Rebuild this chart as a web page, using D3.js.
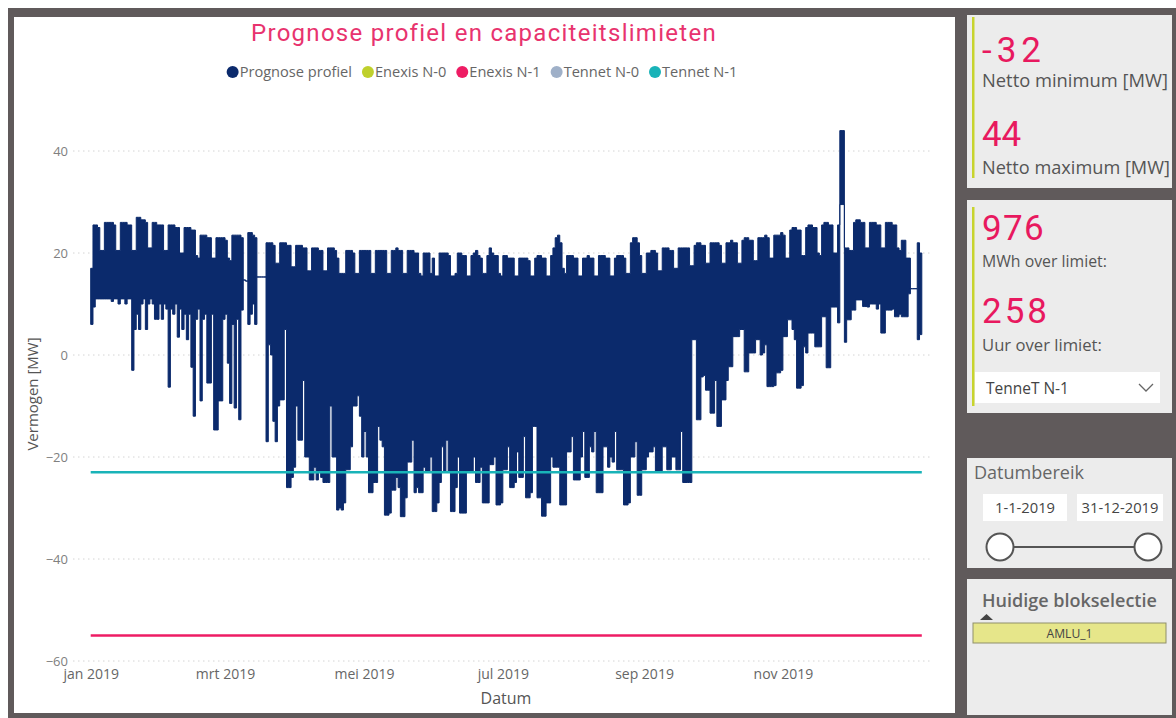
<!DOCTYPE html>
<html><head><meta charset="utf-8">
<script src="https://cdn.jsdelivr.net/npm/d3@7"></script>
<style>
body{margin:0;background:#fff;}
svg{display:block;}
</style></head><body>
<svg id="c" width="1176" height="718"></svg>
<script>
// ---------------- DATA ----------------
const chartTitle = "Prognose profiel en capaciteitslimieten";
const legendNames = ["Prognose profiel","Enexis N-0","Enexis N-1","Tennet N-0","Tennet N-1"];
const legendColors = ["#0b2a6c","#bfd02c","#ee1c64","#9fb0c8","#19b3b8"];
// horizontal capacity limits per legend item (null = not visible in view)
const limitValues = [null, null, -55, null, -23];
const yTicks = [-60,-40,-20,0,20,40];
const xTickDates = ["2019-01-01","2019-03-01","2019-05-01","2019-07-01","2019-09-01","2019-11-01"];
const xTickLabels = ["jan 2019","mrt 2019","mei 2019","jul 2019","sep 2019","nov 2019"];
const xTitle = "Datum";
const yTitle = "Vermogen [MW]";

// daily maximum of the forecast profile (MW), Jan 1 .. Dec 31 2019 (rows = weeks starting Tuesday)
const dailyMax = [
 17,25.5,25.5,25,20.5,20.5,26,
 26,26,26,25.5,20.5,20.5,26,
 26,26,25.5,25.5,20.5,20.5,27,
 27,26.5,26.5,26,21,21,26,
 26,25.5,25.5,25.5,20.5,20.5,25.5,
 25.5,25.5,25,25,20,20,25,
 25,25,24.5,24.5,19.5,19,23.5,
 23.5,23.5,23,23,19,19,23,
 23,23,23,22.5,19,18.5,23.5,
 23.5,23.5,23.5,23,14.7,14.5,24,
 24,23.5,23,15.3,15.3,15.3,15.3,
 22,22,22,21.5,18,18,22,
 22,22,21.5,21.5,17.3,17.3,21.5,
 21.5,21.5,21,21,16.5,16.5,21,
 21,21,20.5,20.5,16.5,16.5,21,
 21,21,20.5,19,16,16,16,
 20.5,20.5,20.5,20,16,16,20.5,
 20.5,20.5,20.5,20.5,16,16,20.5,
 20.5,20.5,20.5,20.5,16,16,20.5,
 20.5,21,20.5,20.5,16,16,20.5,
 20.5,20.5,20,20,16,15.5,20,
 20,20,16,19,15.5,15.5,20,
 20,20,20,19.5,15.5,15.5,16,
 20,20,19.5,19.5,15.5,15.5,19.5,
 20,20.5,19.5,19,16,16,19.5,
 21,20,19.5,19.5,16,15.5,19.5,
 19.5,19,19,19,15.5,15.5,19,
 19,19,19,18.5,15.5,15.5,19,
 19.5,19.5,19,19,15.5,15.5,19.5,
 21,23,23.5,22,17,16,19.5,
 19.5,19.5,19,19,15.5,15.5,19,
 19,19.5,19,19,15.5,15.5,19.5,
 19.5,19.5,19,19,15.5,15.5,19,
 19.5,19.5,19.5,19,16,16,22,
 23,23,22,19.5,16,16,20,
 20,20.5,20.5,20,16.5,16.5,21,
 21,21,20.5,20.5,17,17,21,
 21,21,21,21,17.5,17.5,21.5,
 22,22,21.5,21.5,18,18,22,
 22,22,22,21.5,18,18,22,
 22,22.5,22,22,18,18,22.5,
 23,23,22.5,22.5,18.5,18.5,23,
 23,23,23.5,23,19,19,23.5,
 23.5,23.5,24,23.5,19,19,24.5,
 25,25,24.5,24.5,19.5,19.5,25,
 25.5,25.5,25,25,20,19.5,25.5,
 26,26,25.5,25.5,20,20,25.5,
 44,44,21,21,20.5,20.5,26,
 26.5,26.5,26,26,21,21,26,
 26,26,25.5,25.5,21,21,26,
 26,26,25.5,25.5,21,20.5,22.5,
 22.5,19,19,13,13,13,22,
 20
];
// daily minimum of the forecast profile (MW)
const dailyMin = [
 6,9.4,11,11,11,11,11,
 11,11,10.5,11,11,10,11,
 11,10,11,11,-3,5,8,
 5,10,11,5,10,11,10,
 7,7,10,7,10,9,-6.3,
 9,8,10,3.5,9,5,8,
 3,8,-2.4,-12,7,9,-9,
 7,8,-5.5,-5.5,8,-14.7,-14.7,
 -9,-9,7,8,-1.6,-9.5,6,
 -10.4,7,-12.7,8.8,14.7,14.5,6,
 8,10,6,15.3,15.3,15.3,15.3,
 -17,2,0,-13,-17,-10,-8.8,
 -8.8,5,-26,-26,-24,-22,-10,
 -16.7,-16.7,-5,-20,-20,-24.5,-24.5,
 -22,-24.5,-23,-24,-25,-25,-25,
 -10,-20,-20,-30.4,-30,-30.4,-29,
 -22.5,-22.5,-18,-10,-10,-8,-12,
 -20,-15,-20,-27,-27,-25,-25,
 -14,-16.7,-18,-31.4,-31.4,-31,-26.5,
 -26.5,-24,-26,-31.7,-31.7,-28,-21,
 -21,-16.7,-27,-26,-27,-27,-22,
 -23,-23,-20,-30.7,-30.7,-29,-25,
 -18,-23,-16.7,-23,-30.7,-30.7,-26,
 -20,-31,-31,-31,-23,-23,-23,
 -20,-25,-25,-22,-29,-29,-29,
 -21.5,-21.5,-20,-29.4,-29.4,-29,-22.5,
 -22.5,-18,-26,-26,-25,-19,-24,
 -24,-16,-28,-28,-27,-14,-14,
 -28,-28,-31.6,-31.6,-29,-29,-20,
 -22,-22,-22,-29.4,-29.4,-29.4,-19,
 -19,-16,-24.5,-24.5,-24.5,-20,-15,
 -24,-24,-18,-19,-15,-27,-27,
 -27,-18,-18,-22,-20,-21,-15,
 -22.5,-22.5,-22.5,-29.4,-29.4,-29,-20,
 -20,-17,-27.5,-27.5,-22.5,-22.5,-20,
 -19,-19,-18,-23,-23,-23,-18,
 -18,-22.5,-22.5,-20,-20,-22.5,-22.5,
 -15,-25,-25,-25,-25,3,3,
 -12.7,-12.7,-4.3,-4,-6.9,-6.9,-11.4,
 -11.4,-5,-14,-14,-8.8,-8.8,-5,
 -2.3,-2.3,3.6,3.6,3.6,5,5,
 -3.3,-3.3,0.4,0.4,0.4,3,3,
 0,0.4,2,-6.2,-6.2,-6.2,-6,
 -3.5,-3.5,-3,3.6,3.6,6.9,6.9,
 5,3,-6.5,-6.5,-6,1.6,0.4,
 4.3,4.3,4.3,1.6,1.6,1.6,7.5,
 7.5,-2.5,-2.5,9.4,9.4,9.4,6.3,
 29.5,29.5,2.5,6.9,6.9,8.8,8.8,
 10.8,10.8,10.8,9.5,9.5,9.4,10,
 10,10,9,10,4.3,4.3,8.8,
 8.8,8.8,9,7.5,7.5,8,7.5,
 7.5,7.5,12,13,13,13,3,
 4
];

// KPI cards
const kpiValues = ["-32","44","976","258"];
const kpiLabels = ["Netto minimum [MW]","Netto maximum [MW]","MWh over limiet:","Uur over limiet:"];
const dropdownValue = "TenneT N-1";
const rangeTitle = "Datumbereik";
const rangeStart = "1-1-2019";
const rangeEnd = "31-12-2019";
const selectionTitle = "Huidige blokselectie";
const selectionItems = ["AMLU_1"];

// ---------------- DRAW ----------------
const svg = d3.select("#c");
const navy = legendColors[0];
const pink = "#e8195f";
const fontTxt = "'Open Sans', 'Noto Sans', sans-serif";
const fontDin = "Roboto, 'Noto Sans', sans-serif";

function fitSpacing(sel, w){
  const n = sel.node(); const cur = n.getComputedTextLength();
  const len = sel.text().length;
  sel.attr("letter-spacing", ((w-cur)/len).toFixed(3));
}
function fitSize(sel, w){
  const n = sel.node(); const cur = n.getComputedTextLength();
  const fs = parseFloat(sel.attr("font-size"));
  sel.attr("font-size", (fs*w/cur).toFixed(2));
}

// frame
svg.append("rect").attr("width",1176).attr("height",718).attr("fill","#ffffff");
svg.append("rect").attr("x",8).attr("y",8).attr("width",1168).attr("height",710).attr("fill","#605a5b");
svg.append("rect").attr("x",14).attr("y",17).attr("width",941).attr("height",696).attr("fill","#ffffff");

// scales
const t0 = Date.UTC(2019,0,1);
const dayDate = d => new Date(t0 + d*864e5);
const x = d3.scaleUtc().domain([dayDate(0), dayDate(365)]).range([90.7, 921.8]);
const y = d3.scaleLinear().domain([-60,40]).range([661,151]);

// gridlines
svg.append("g").selectAll("line").data(yTicks).join("line")
  .attr("x1",73).attr("x2",932).attr("y1",d=>y(d)).attr("y2",d=>y(d))
  .attr("stroke","#d4d4d4").attr("stroke-width",1).attr("stroke-dasharray","1.5,3.5");

// y axis
const yAxis = svg.append("g").attr("transform","translate(68,0)")
  .call(d3.axisLeft(y).tickValues(yTicks).tickSize(0).tickPadding(0).tickFormat(d3.format("d")));
yAxis.select(".domain").remove();
yAxis.selectAll("text").attr("fill","#808080").attr("font-size",13).attr("font-family",fontTxt);

// x axis
const parse = d3.utcParse("%Y-%m-%d");
const xAxis = svg.append("g").attr("transform","translate(0,661)")
  .call(d3.axisBottom(x).tickValues(xTickDates.map(parse)).tickSize(0).tickPadding(8)
    .tickFormat((d,i)=>xTickLabels[i]));
xAxis.select(".domain").remove();
xAxis.selectAll("text").attr("fill","#666").attr("font-size",14).attr("font-family",fontTxt);

// axis titles
svg.append("text").text(xTitle).attr("x",506).attr("y",704).attr("text-anchor","middle")
  .attr("fill","#555").attr("font-size",16).attr("font-family",fontTxt);
svg.append("text").text(yTitle).attr("transform","translate(38,394) rotate(-90)").attr("text-anchor","middle")
  .attr("fill","#555").attr("font-size",15).attr("font-family",fontTxt);

// forecast profile (daily min-max envelope of hourly line)
const band = dailyMax.map((v,i)=>({d:i, hi:v, lo:dailyMin[i]}));
band.push({d:365, hi:dailyMax[364], lo:dailyMin[364]});
const area = d3.area().x(p=>x(dayDate(p.d))).y0(p=>y(p.lo)).y1(p=>y(p.hi)).curve(d3.curveStepAfter);
svg.append("path").datum(band).attr("d",area)
  .attr("fill",navy).attr("stroke",navy).attr("stroke-width",1).attr("stroke-linejoin","round");

// limit lines
limitValues.forEach((v,i)=>{
  if(v===null) return;
  svg.append("line").attr("x1",x(dayDate(0))).attr("x2",x(dayDate(365)))
    .attr("y1",y(v)).attr("y2",y(v)).attr("stroke",legendColors[i]).attr("stroke-width",2.5);
});

// title
const tt = svg.append("text").text(chartTitle).attr("x",484).attr("y",41).attr("text-anchor","middle")
  .attr("fill","#e8336e").attr("font-size",24).attr("font-family",fontDin);
fitSpacing(tt,465);

// legend
const lg = svg.append("g");
let lx = 0;
const lgFont = 14.6;
legendNames.forEach((n,i)=>{
  lg.append("circle").attr("cx",lx+6).attr("cy",72).attr("r",6).attr("fill",legendColors[i]);
  const t = lg.append("text").text(n).attr("x",lx+13).attr("y",77).attr("fill","#666")
    .attr("font-size",lgFont).attr("font-family",fontTxt);
  lx += 13 + t.node().getComputedTextLength() + 10;
});
const lgW = lx - 10;
lg.attr("transform",`translate(${482 - lgW/2},0)`);

// right panels
const panels = [[967,15,205,173],[967,200,205,213],[967,458,205,110],[967,579,205,136]];
svg.append("g").selectAll("rect").data(panels).join("rect")
  .attr("x",d=>d[0]).attr("y",d=>d[1]).attr("width",d=>d[2]).attr("height",d=>d[3]).attr("fill","#ececec");
svg.append("rect").attr("x",972).attr("y",17).attr("width",2.5).attr("height",161).attr("fill","#c8d42e");
svg.append("rect").attr("x",972).attr("y",207).attr("width",2.5).attr("height",199).attr("fill","#c8d42e");

const kpiNumY = [62,146,240,323];
const kpiNumW = [64,39,63,68];
const kpiLabY = [87,174,267,351];
const kpiLabW = [186,188,125,120];
kpiValues.forEach((v,i)=>{
  const t = svg.append("text").text(v).attr("x",982).attr("y",kpiNumY[i]).attr("fill",pink)
    .attr("font-size",35).attr("font-family",fontDin);
  fitSpacing(t,kpiNumW[i]);
  const l = svg.append("text").text(kpiLabels[i]).attr("x",982).attr("y",kpiLabY[i]).attr("fill","#555")
    .attr("font-size",16).attr("font-family",fontTxt);
  fitSize(l,kpiLabW[i]);
});
// dropdown
svg.append("rect").attr("x",975).attr("y",372).attr("width",185).attr("height",31).attr("fill","#fff");
const dd = svg.append("text").text(dropdownValue).attr("x",986).attr("y",394).attr("fill","#444")
  .attr("font-size",15).attr("font-family",fontTxt);
fitSize(dd,83);
svg.append("polyline").attr("points","1139,384 1146,391 1153,384").attr("fill","none")
  .attr("stroke","#666").attr("stroke-width",1.3);

// date range slicer
const rt = svg.append("text").text(rangeTitle).attr("x",974).attr("y",479).attr("fill","#666")
  .attr("font-size",17).attr("font-family",fontTxt);
fitSize(rt,110);
[[983,84,rangeStart,60],[1077,86,rangeEnd,77]].forEach(b=>{
  svg.append("rect").attr("x",b[0]).attr("y",494).attr("width",b[1]).attr("height",27).attr("fill","#fff");
  const t = svg.append("text").text(b[2]).attr("x",b[0]+b[1]/2).attr("y",513).attr("text-anchor","middle")
    .attr("fill","#444").attr("font-size",13).attr("font-family",fontTxt);
  fitSize(t,b[3]);
});
svg.append("line").attr("x1",1000).attr("x2",1148).attr("y1",547).attr("y2",547).attr("stroke","#555").attr("stroke-width",2);
[1000,1148].forEach(cx=>{
  svg.append("circle").attr("cx",cx).attr("cy",547).attr("r",13.5).attr("fill","#fff")
    .attr("stroke","#555").attr("stroke-width",2);
});

// selection
const st = svg.append("text").text(selectionTitle).attr("x",982).attr("y",607).attr("fill","#666")
  .attr("font-size",18).attr("font-weight",600).attr("font-family",fontTxt);
fitSize(st,175);
svg.append("path").attr("d","M980,620 L993,620 L986.5,614 Z").attr("fill","#444");
selectionItems.forEach((s,i)=>{
  svg.append("rect").attr("x",973).attr("y",623+i*22).attr("width",193).attr("height",20)
    .attr("fill","#e6e68a").attr("stroke","#8f8f6a").attr("stroke-width",1);
  const t = svg.append("text").text(s).attr("x",1069.5).attr("y",638+i*22).attr("text-anchor","middle")
    .attr("fill","#444").attr("font-size",13).attr("font-family",fontTxt);
  fitSize(t,46);
});
</script>
</body></html>
